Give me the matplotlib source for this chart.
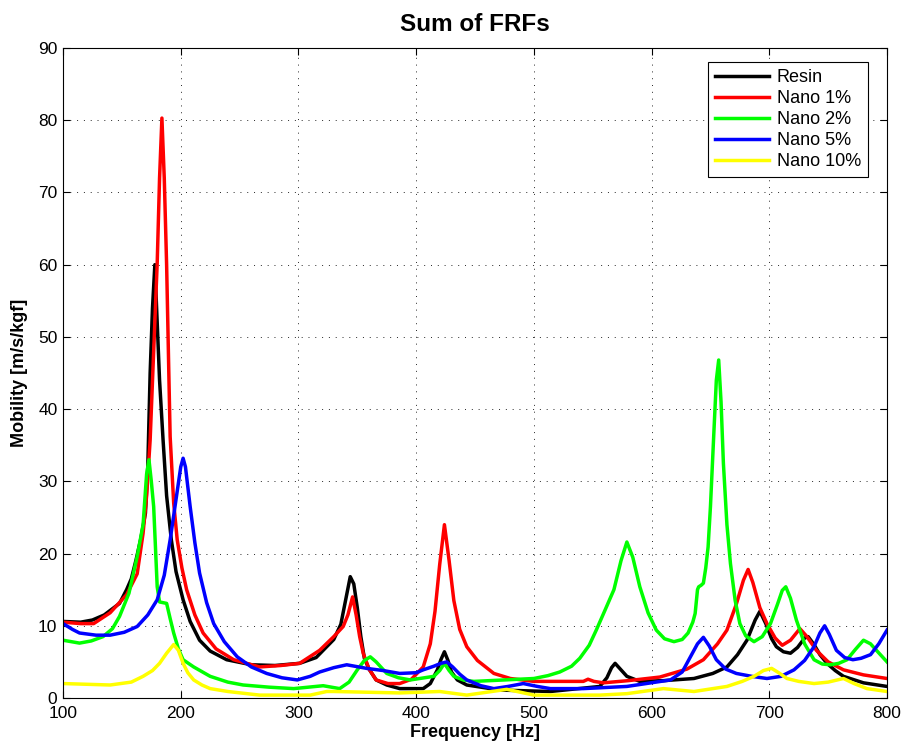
import numpy as np
import matplotlib.pyplot as plt

plt.rcParams['font.family'] = ['Liberation Sans', 'DejaVu Sans']

# Sum of FRFs, mobility vs frequency for each sample
f_resin = [100, 115, 125, 135, 148, 154, 158, 162, 166, 170, 172, 174, 176, 178, 180, 182,
           185, 188, 192, 196, 202, 208, 216, 225, 239, 260, 280, 301, 315, 330, 336, 340,
           344, 347, 350, 353, 356, 360, 366, 375, 386, 406, 412, 418, 421, 424, 427, 430,
           435, 443, 471, 514, 556, 562, 566, 569, 574, 579, 590, 610, 636, 652, 664, 673,
           681, 688, 692, 697, 702, 706, 712, 718, 724, 730, 733, 738, 743, 749, 756, 763,
           780, 800]
m_resin = [10.6, 10.5, 10.8, 11.5, 13.1, 15.0, 16.5, 19.1, 22.0, 25.6, 32.0, 45.0, 54.0, 60.0, 52.0, 44.0,
           35.7, 28.0, 21.9, 17.5, 13.6, 10.6, 8.0, 6.5, 5.3, 4.6, 4.5, 4.8, 5.6, 8.1, 10.2, 13.5,
           16.8, 15.8, 12.5, 8.5, 5.5, 4.0, 2.5, 1.8, 1.3, 1.3, 2.0, 3.9, 5.3, 6.4, 5.2, 3.6,
           2.5, 1.8, 1.1, 0.9, 1.6, 2.8, 4.2, 4.8, 3.9, 3.0, 2.3, 2.4, 2.7, 3.4, 4.3, 6.0,
           8.0, 10.8, 12.0, 10.3, 8.2, 7.1, 6.4, 6.2, 7.0, 8.3, 8.5, 7.4, 6.0, 4.8, 3.8, 3.0,
           2.1, 1.6]

f_nano1 = [100, 115, 126, 140, 154, 163, 168, 171, 174, 177, 180, 182, 184, 186, 188, 190,
           191, 194, 197, 201, 205, 212, 219, 230, 245, 267, 285, 301, 318, 330, 338, 342,
           346, 349, 352, 355, 360, 366, 376, 386, 396, 406, 412, 416, 420, 424, 428, 432,
           437, 443, 452, 466, 480, 500, 522, 542, 546, 551, 559, 580, 607, 630, 644, 656,
           664, 672, 678, 682, 686, 692, 698, 705, 711, 718, 726, 732, 740, 750, 763, 780,
           800]
m_nano1 = [10.5, 10.3, 10.3, 11.8, 14.3, 17.2, 22.8, 28.0, 35.7, 48.0, 60.2, 72.0, 80.3, 72.0, 60.0, 44.0,
           36.2, 27.0, 21.9, 18.0, 15.0, 11.5, 9.0, 6.8, 5.3, 4.3, 4.5, 4.8, 6.6, 8.5, 9.9, 11.5,
           14.0, 11.5, 8.5, 6.2, 4.0, 2.5, 2.0, 2.0, 2.6, 4.3, 7.5, 12.0, 18.5, 24.0, 19.0, 13.5,
           9.5, 7.1, 5.2, 3.4, 2.7, 2.3, 2.3, 2.3, 2.6, 2.3, 2.1, 2.4, 2.9, 4.0, 5.3, 7.5,
           9.4, 13.0, 16.3, 17.8, 16.0, 12.5, 10.3, 8.3, 7.3, 8.0, 9.6, 8.5, 6.6, 5.0, 3.9, 3.2,
           2.7]

f_nano2 = [100, 114, 124, 134, 142, 148, 156, 163, 168, 171, 173, 175, 177, 180, 182, 188,
           191, 194, 198, 202, 211, 225, 240, 253, 275, 296, 321, 335, 343, 350, 356, 361,
           366, 375, 385, 395, 415, 420, 424, 428, 432, 440, 449, 475, 500, 512, 522, 532,
           539, 547, 553, 560, 568, 574, 579, 584, 590, 597, 604, 611, 619, 626, 631, 635,
           637, 639, 640, 642, 644, 646, 648, 650, 653, 655, 657, 659, 661, 664, 667, 671,
           675, 680, 687, 694, 701, 707, 711, 714, 718, 723, 730, 738, 745, 752, 759, 766,
           773, 780, 786, 791, 800]
m_nano2 = [8.0, 7.6, 7.9, 8.5, 9.6, 11.3, 14.5, 19.6, 24.0, 31.0, 33.0, 30.0, 26.5, 15.4, 13.3, 13.1,
           11.0, 9.0, 6.8, 5.3, 4.3, 3.0, 2.2, 1.8, 1.5, 1.3, 1.7, 1.3, 2.2, 3.9, 5.2, 5.7,
           5.0, 3.4, 2.8, 2.5, 3.0, 3.8, 4.8, 3.8, 3.0, 2.5, 2.3, 2.5, 2.7, 3.1, 3.6, 4.4,
           5.5, 7.3, 9.4, 12.0, 15.0, 19.0, 21.6, 19.5, 15.4, 11.8, 9.4, 8.2, 7.8, 8.1, 9.0, 10.5,
           11.7, 15.0, 15.4, 15.6, 15.9, 18.0, 20.9, 26.5, 37.1, 44.0, 46.8, 41.0, 32.5, 24.0, 18.6, 13.5,
           10.3, 8.6, 7.8, 8.5, 10.3, 13.0, 14.9, 15.4, 13.8, 10.8, 7.5, 5.3, 4.7, 4.6, 4.8, 5.3,
           6.7, 8.0, 7.5, 6.6, 5.0]

f_nano5 = [100, 108, 114, 128, 140, 152, 163, 172, 180, 186, 191, 196, 200, 202, 204, 208,
           212, 216, 222, 228, 237, 248, 260, 273, 286, 299, 310, 318, 330, 341, 358, 372,
           386, 400, 406, 415, 421, 426, 431, 437, 443, 455, 466, 478, 491, 503, 514, 542,
           579, 616, 626, 633, 639, 644, 649, 655, 663, 672, 685, 698, 710, 721, 730, 738,
           743, 747, 751, 757, 764, 771, 778, 786, 793, 800]
m_nano5 = [10.3, 9.5, 9.0, 8.7, 8.7, 9.1, 9.9, 11.5, 13.6, 17.0, 21.9, 27.5, 32.0, 33.2, 32.0, 26.5,
           21.5, 17.3, 13.2, 10.3, 7.8, 5.7, 4.3, 3.4, 2.8, 2.5, 3.0, 3.6, 4.2, 4.6, 4.1, 3.8,
           3.4, 3.5, 3.9, 4.4, 4.8, 5.0, 4.3, 3.3, 2.5, 1.7, 1.3, 1.6, 2.0, 1.6, 1.3, 1.3,
           1.6, 2.5, 3.6, 5.7, 7.5, 8.4, 7.2, 5.3, 4.0, 3.4, 3.0, 2.7, 3.0, 3.9, 5.2, 7.1,
           9.0, 10.0, 8.8, 6.6, 5.6, 5.3, 5.5, 6.0, 7.5, 9.4]

f_nano10 = [100, 140, 158, 168, 176, 182, 188, 194, 198, 202, 206, 211, 218, 225, 240, 267,
            310, 324, 330, 386, 420, 443, 477, 500, 556, 579, 610, 636, 664, 677, 687, 695,
            702, 708, 715, 725, 738, 750, 763, 772, 783, 800]
m_nano10 = [2.0, 1.8, 2.2, 3.0, 3.8, 4.8, 6.2, 7.4, 6.6, 4.8, 3.5, 2.5, 1.8, 1.3, 0.9, 0.4,
            0.4, 0.9, 0.9, 0.7, 0.9, 0.4, 1.2, 0.4, 0.4, 0.6, 1.3, 0.9, 1.6, 2.3, 3.0, 3.8,
            4.1, 3.5, 2.7, 2.3, 2.0, 2.2, 2.7, 2.0, 1.3, 0.9]

series = [
    (f_resin, m_resin, 'k', 'Resin'),
    (f_nano1, m_nano1, 'r', 'Nano 1%'),
    (f_nano2, m_nano2, '#00ff00', 'Nano 2%'),
    (f_nano5, m_nano5, 'b', 'Nano 5%'),
    (f_nano10, m_nano10, '#ffff00', 'Nano 10%'),
]

fig = plt.figure(figsize=(9.03, 7.47), dpi=100)
ax = fig.add_axes([0.0698, 0.0656, 0.9125, 0.8701])

for f, m, c, lab in series:
    ax.plot(f, m, color=c, lw=2.5, label=lab, solid_joinstyle='round')

ax.set_xlim(100, 800)
ax.set_ylim(0, 90)
ax.set_xticks(np.arange(100, 801, 100))
ax.set_yticks(np.arange(0, 91, 10))
ax.grid(True, linestyle=(0, (1, 6)), color='k', lw=0.7, alpha=0.85)
ax.tick_params(direction='in', top=True, right=True, labelsize=12.5, length=5)
ax.tick_params(axis='x', pad=6)
ax.tick_params(axis='y', pad=4)
for s in ax.spines.values():
    s.set_linewidth(0.8)

ax.set_title('Sum of FRFs', fontsize=17.5, fontweight='bold', pad=12)
ax.set_xlabel('Frequency [Hz]', fontsize=13, fontweight='bold', labelpad=2)
ax.set_ylabel('Mobility [m/s/kgf]', fontsize=13, fontweight='bold', labelpad=7)

leg = ax.legend(loc='upper right', bbox_to_anchor=(0.977, 0.9785), borderaxespad=0,
                fontsize=13, fancybox=False, edgecolor='k', framealpha=1,
                handlelength=3.0, labelspacing=0.22, handletextpad=0.4,
                borderpad=0.4)
leg.get_frame().set_linewidth(0.8)

fig.savefig('out.png', dpi=100)
